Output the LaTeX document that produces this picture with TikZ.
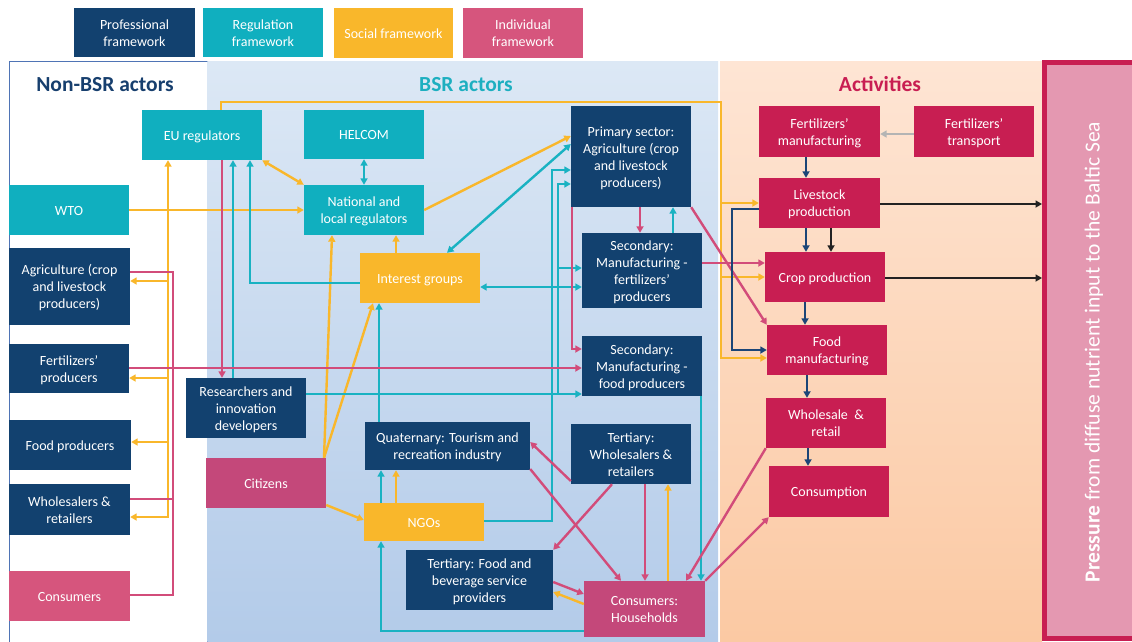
\documentclass[tikz,border=0pt]{standalone}
\usepackage{fontspec}
\setmainfont{Carlito}
\usetikzlibrary{arrows.meta}
\newcommand\tps{\rule{0pt}{13.8pt}}
\newcommand\bts{\rule[-3pt]{0pt}{3pt}}
\definecolor{navyC}{HTML}{12416F}
\definecolor{tealC}{HTML}{10AFBF}
\definecolor{orangeC}{HTML}{F9B72B}
\definecolor{pinkL}{HTML}{D6557D}
\definecolor{pinkD}{HTML}{C4487A}
\definecolor{crimC}{HTML}{C81E52}
\definecolor{pressF}{HTML}{E498B1}
\definecolor{lineO}{HTML}{F9B72B}
\definecolor{lineT}{HTML}{19B2C2}
\definecolor{lineP}{HTML}{D24C7A}
\definecolor{lineN}{HTML}{1B4577}
\definecolor{lineK}{HTML}{222222}
\definecolor{lineG}{HTML}{B4B4B4}
\definecolor{bsrTop}{HTML}{DCE8F5}
\definecolor{bsrBot}{HTML}{B3CBE9}
\definecolor{actTop}{HTML}{FEE5D4}
\definecolor{actBot}{HTML}{FBC9A3}
\definecolor{panelB}{HTML}{4F74B5}
\definecolor{titleN}{HTML}{173F6E}
\definecolor{titleT}{HTML}{1DAFC0}
\begin{document}
\begin{tikzpicture}[x=1pt,y=-1pt,
  bx/.style={rectangle, inner sep=2pt, align=center, text=white, font=\fontsize{14}{17}\selectfont},
  nv/.style={bx, fill=navyC},
  tl/.style={bx, fill=tealC},
  og/.style={bx, fill=orangeC},
  pk/.style={bx, fill=pinkL},
  pkd/.style={bx, fill=pinkD},
  cr/.style={bx, fill=crimC},
  sz/.style n args={2}{minimum width=#1pt, minimum height=#2pt},
  ttl/.style={anchor=base, font=\bfseries\fontsize{21.5}{24}\selectfont},
  con/.style={line width=2.4pt},
  ora/.style={con, draw=lineO},
  tea/.style={con, draw=lineT},
  pin/.style={con, draw=lineP},
  nav/.style={con, draw=lineN},
  blk/.style={con, draw=lineK},
  gry/.style={con, draw=lineG},
  arr/.style={-{Triangle[length=6.5pt,width=7pt]}},
  biarr/.style={{Triangle[length=6.5pt,width=7pt]}-{Triangle[length=6.5pt,width=7pt]}}
]
\useasboundingbox (0,0) rectangle (1132,641);
\fill[white] (0,0) rectangle (1132,641);
% panels
\draw[draw=panelB, line width=0.8pt, fill=white] (9,61) rectangle (207,646);
\shade[top color=bsrTop, bottom color=bsrBot] (207.4,61) rectangle (718,641);
\shade[top color=actTop, bottom color=actBot] (720,61) rectangle (1042,641);
\node[draw=crimC, line width=5pt, fill=pressF, minimum width=90pt, minimum height=576pt, inner sep=0pt] (press) at (1089.5,350.5) {};
\node[rotate=90, text=white, font=\fontsize{21.5}{24}\selectfont] (presstxt) at (1094,352) {\textbf{Pressure} from diffuse nutrient input to the Baltic Sea};
% titles
\node[ttl, text=titleN] (tnon) at (105,91) {Non-BSR actors};
\node[ttl, text=titleT] (tbsr) at (466,91) {BSR actors};
\node[ttl, text=crimC] (tact) at (880,91.5) {Activities};
% legend
\node[nv, sz={121}{49}] (lprof) at (134.5,32.5) {\tps Professional\\framework\bts};
\node[tl, sz={120}{49}] (lreg) at (263,32.5) {\tps Regulation\\framework\bts};
\node[og, sz={119}{50}] (lsoc) at (393.5,33) {\tps Social framework\bts};
\node[pk, sz={120}{50}] (lind) at (523,33) {\tps Individual\\framework\bts};
% non-BSR
\node[tl, sz={120}{50}] (wto) at (69,210) {\tps WTO\bts};
\node[nv, sz={121}{77}] (agri) at (69.5,286.5) {\tps Agriculture (crop\\and livestock\\producers)\bts};
\node[nv, sz={120}{49}] (fertp) at (69,368.5) {\tps Fertilizers’\\producers\bts};
\node[nv, sz={122}{50}] (foodp) at (70,445) {\tps Food producers\bts};
\node[nv, sz={121}{51}] (whole) at (69.5,509.5) {\tps Wholesalers \&\\retailers\bts};
\node[pk, sz={121}{50}] (cons) at (69.5,596) {\tps Consumers\bts};
% BSR
\node[tl, sz={120}{50}] (eu) at (202,135) {\tps EU regulators\bts};
\node[tl, sz={120}{49}] (helcom) at (364,134.5) {\tps HELCOM\bts};
\node[tl, sz={120}{50}] (natl) at (364,210) {\tps National and\\local regulators\bts};
\node[og, sz={120}{50}] (interest) at (420,278) {\tps Interest groups\bts};
\node[nv, sz={120}{60}] (research) at (246,408) {\tps Researchers and\\innovation\\developers\bts};
\node[pkd, sz={120}{50}] (citizens) at (266,483) {\tps Citizens\bts};
\node[nv, sz={165}{48}] (quat) at (447.5,446) {\tps Quaternary: Tourism and\\recreation industry\bts};
\node[og, sz={120}{38}] (ngos) at (424,522) {\tps NGOs\bts};
\node[nv, sz={147}{60}] (tfood) at (479.5,580) {\tps Tertiary: Food and\\beverage service\\providers\bts};
\node[nv, sz={120}{60}] (twhole) at (631,454) {\tps Tertiary:\\Wholesalers \&\\retailers\bts};
\node[pkd, sz={121}{56}] (house) at (644.5,609) {\tps Consumers:\\Households\bts};
\node[nv, sz={120}{101}] (primary) at (631,156.5) {\tps Primary sector:\\Agriculture (crop\\and livestock\\producers)\bts};
\node[nv, sz={120}{75}] (secfert) at (642,270.5) {\tps Secondary:\\Manufacturing -\\fertilizers’\\producers\bts};
\node[nv, sz={120}{60}] (secfood) at (642,366) {\tps Secondary:\\Manufacturing -\\food producers\bts};
% activities
\node[cr, sz={121}{51}] (fman) at (819.5,131.5) {\tps Fertilizers’\\manufacturing\bts};
\node[cr, sz={120}{51}] (ftrans) at (974,131.5) {\tps Fertilizers’\\transport\bts};
\node[cr, sz={121}{50}] (live) at (819.5,203) {\tps Livestock\\production\bts};
\node[cr, sz={120}{50}] (crop) at (825,277) {\tps Crop production\bts};
\node[cr, sz={120}{50}] (foodm) at (827,350) {\tps Food\\manufacturing\bts};
\node[cr, sz={120}{50}] (wr) at (826,423) {\tps Wholesale \ \&\\retail\bts};
\node[cr, sz={120}{51}] (consm) at (829,491.5) {\tps Consumption\bts};
% ---- orange connectors
\draw[ora,arr] (221,0 |- eu.north) |- (721,102) |- (foodm.west |- 0,358);
\draw[ora,arr] (721,0 |- live.west) -- (live.west);
\draw[ora,arr] (721,0 |- crop.west) -- (crop.west);
\draw[ora,arr] (wto.east) -- (natl.west);
\draw[ora,biarr] (168,0 |- eu.south) |- (whole.east |- 0,517);
\draw[ora,arr] (168,281) -- (agri.east |- 0,281);
\draw[ora,arr] (168,378) -- (fertp.east |- 0,378);
\draw[ora,arr] (168,442) -- (foodp.east |- 0,442);
\draw[ora,biarr] (eu.south east) -- (natl.north west);
\draw[ora,arr] (natl.east) -- (primary.west |- 0,136);
\draw[ora,arr] (396,0 |- interest.north) -- (396,0 |- natl.south);
\draw[ora,arr] (324,0 |- citizens.north) -- (332,0 |- natl.south);
\draw[ora,arr] (324,0 |- citizens.north) -- (373,0 |- interest.south);
\draw[ora,arr] (citizens.east |- 0,505) -- (ngos.west |- 0,520);
\draw[ora,arr] (396,0 |- ngos.north) -- (396,0 |- quat.south);
\draw[ora,arr] (house.west |- 0,604) -- (tfood.east |- 0,592);
\draw[ora,arr] (668,0 |- house.north) -- (668,0 |- twhole.south);
% ---- teal connectors
\draw[tea,biarr] (helcom.south) -- (natl.north);
\draw[tea,arr] (233,0 |- research.north) -- (233,0 |- eu.south);
\draw[tea,arr] (interest.west |- 0,283) -| (250,0 |- eu.south);
\draw[tea,biarr] (447,0 |- interest.north) -- (primary.west |- 0,144);
\draw[tea,biarr] (interest.east |- 0,287) -- (secfert.west |- 0,287);
\draw[tea,arr] (379,0 |- quat.north) -- (379,0 |- interest.south);
\draw[tea,arr] (381,0 |- ngos.north) -- (381,0 |- quat.south);
\draw[tea,arr] (ngos.east |- 0,521) -| (552,170) -- (primary.west |- 0,170);
\draw[tea,arr] (research.east |- 0,394) -- (secfood.west |- 0,394);
\draw[tea,arr] (558,394) |- (primary.west |- 0,184);
\draw[tea,arr] (558,268) -- (secfert.west |- 0,268);
\draw[tea,arr] (673,0 |- secfert.north) -- (673,0 |- primary.south);
\draw[tea,arr] (701,0 |- secfood.south) -- (701,0 |- house.north);
\draw[tea,arr] (house.west |- 0,631) -| (381,0 |- ngos.south);
% ---- pink connectors
\draw[pin] (agri.east |- 0,272) -| (173,595) -- (cons.east |- 0,595);
\draw[pin] (whole.east |- 0,499) -- (173,499);
\draw[pin,arr] (fertp.east |- 0,368) -- (secfood.west |- 0,368);
\draw[pin,arr] (222,0 |- eu.south) -- (222,0 |- research.north);
\draw[pin,arr] (640,0 |- primary.south) -- (640,0 |- secfert.north);
\draw[pin,arr] (572,0 |- primary.south) |- (secfood.west |- 0,349);
\draw[pin,arr] (primary.south east) -- (foodm.north west);
\draw[pin,arr] (secfert.east |- 0,263) -- (crop.west |- 0,263);
\draw[pin,arr] (twhole.west |- 0,481) -- (quat.east |- 0,442);
\draw[pin,arr] (quat.east |- 0,469) -- (621,0 |- house.north);
\draw[pin,arr] (612,0 |- twhole.south) -- (tfood.north east);
\draw[pin,arr] (645,0 |- twhole.south) -- (645,0 |- house.north);
\draw[pin,arr] (tfood.east |- 0,582) -- (house.west |- 0,594);
\draw[pin,arr] (wr.south west) -- (686,0 |- house.north);
\draw[pin,arr] (house.north east) -- (consm.south west);
% ---- navy connectors
\draw[nav,arr] (806,0 |- fman.south) -- (806,0 |- live.north);
\draw[nav,arr] (806,0 |- live.south) -- (806,0 |- crop.north);
\draw[nav,arr] (805,0 |- crop.south) -- (805,0 |- foodm.north);
\draw[nav,arr] (807,0 |- foodm.south) -- (807,0 |- wr.north);
\draw[nav,arr] (808,0 |- wr.south) -- (808,0 |- consm.north);
\draw[nav,arr] (live.west |- 0,209) -| (732,350) -- (foodm.west);
% ---- black and grey connectors
\draw[blk,arr] (831,0 |- live.south) -- (831,0 |- crop.north);
\draw[blk,arr] (live.east |- 0,204) -- (press.west |- 0,204);
\draw[blk,arr] (crop.east |- 0,278) -- (press.west |- 0,278);
\draw[gry,arr] (ftrans.west |- 0,134) -- (fman.east |- 0,134);
\end{tikzpicture}
\end{document}
